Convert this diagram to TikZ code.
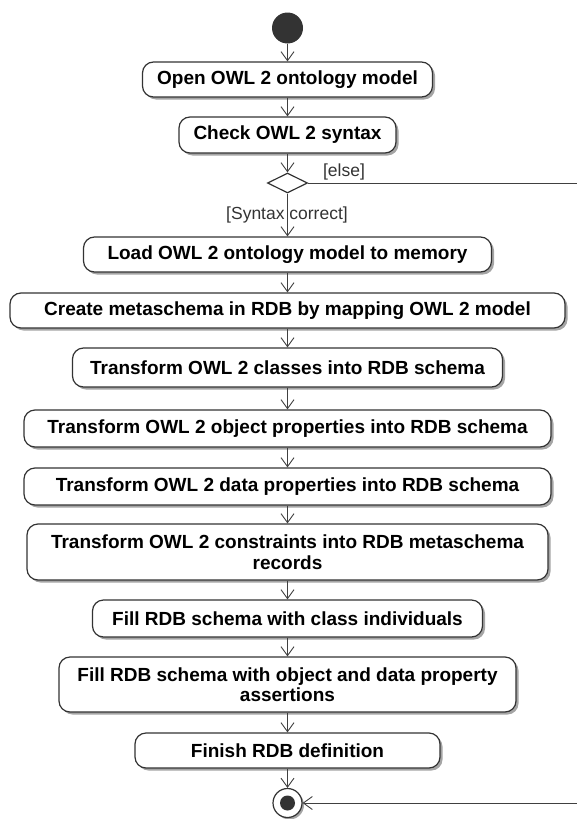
\documentclass[tikz,border=0pt]{standalone}
\usepackage{fontspec}
\setmainfont{Liberation Sans}
\usepackage{xcolor}
\definecolor{umlline}{RGB}{64,64,64}
\definecolor{umldark}{RGB}{51,51,51}
\definecolor{umlshadow}{RGB}{165,165,165}
\usetikzlibrary{arrows.meta, positioning, shapes.geometric, shadows}

\tikzset{
  action/.style={draw=umldark, line width=1.2pt, fill=white, rounded corners=11pt, align=center,
    font=\fontsize{19}{20.5}\selectfont\bfseries, inner sep=2pt,
    drop shadow={shadow xshift=2.5pt, shadow yshift=-2.5pt, fill=umlshadow, opacity=1}},
  flow/.style={draw=umlline, line width=0.9pt, -{Straight Barb[length=9pt,width=13pt]}},
  guard/.style={font=\fontsize{17.5}{19}\selectfont, text=umldark},
}

\begin{document}
\begin{tikzpicture}[x=1pt, y=-1pt]
  \useasboundingbox (0,0) rectangle (577,819);

  % Initial node
  \node[circle, fill=umldark, minimum size=31pt, inner sep=0pt] (start) at (287.5,28) {};

  % Opening and checking
  \node[action, minimum width=290pt, minimum height=35pt] (open) at (287.5,79.5) {Open OWL 2 ontology model};
  \node[action, minimum width=217pt, minimum height=36pt] (check) at (287.5,135) {Check OWL 2 syntax};

  % Decision
  \node[diamond, draw=umldark, line width=1.2pt, fill=white, minimum width=40pt, minimum height=20pt, inner sep=0pt] (decide) at (287.5,183) {};

  % Mapping steps
  \node[action, minimum width=408pt, minimum height=35pt] (load) at (287.5,254.5) {Load OWL 2 ontology model to memory};
  \node[action, minimum width=555pt, minimum height=35pt] (meta) at (287.5,310.5) {Create metaschema in RDB by mapping OWL 2 model};
  \node[action, minimum width=430pt, minimum height=39pt] (classes) at (287.5,367.5) {Transform OWL 2 classes into RDB schema};
  \node[action, minimum width=527pt, minimum height=37pt] (objprops) at (287.5,428.5) {Transform OWL 2 object properties into RDB schema};
  \node[action, minimum width=527pt, minimum height=37pt] (dataprops) at (287.5,486.5) {Transform OWL 2 data properties into RDB schema};
  \node[action, minimum width=521pt, minimum height=56pt] (constr) at (287.5,552) {Transform OWL 2 constraints into RDB metaschema\\records};

  % Filling steps
  \node[action, minimum width=390pt, minimum height=37pt] (fillind) at (287.5,618.5) {Fill RDB schema with class individuals};
  \node[action, minimum width=457pt, minimum height=55pt] (fillprop) at (287.5,684.5) {Fill RDB schema with object and data property\\assertions};
  \node[action, minimum width=305pt, minimum height=35pt] (finish) at (287.5,750.5) {Finish RDB definition};

  % Final node
  \node[circle, draw=umldark, line width=1.2pt, fill=white, minimum size=29pt, inner sep=0pt,
    drop shadow={shadow xshift=2pt, shadow yshift=-2pt, fill=umlshadow, opacity=1}] (done) at (287.5,803) {};
  \node[circle, fill=umldark, minimum size=15pt, inner sep=0pt] (donedot) at (done.center) {};

  % Control flows
  \draw[flow] (start) -- (open);
  \draw[flow] (open) -- (check);
  \draw[flow] (check) -- (decide);
  \draw[flow] (decide) -- (load);
  \draw[flow] (load) -- (meta);
  \draw[flow] (meta) -- (classes);
  \draw[flow] (classes) -- (objprops);
  \draw[flow] (objprops) -- (dataprops);
  \draw[flow] (dataprops) -- (constr);
  \draw[flow] (constr) -- (fillind);
  \draw[flow] (fillind) -- (fillprop);
  \draw[flow] (fillprop) -- (finish);
  \draw[flow] (finish) -- (done);

  % Else branch (runs outside the right edge)
  \coordinate (elsetop) at (600,183);
  \coordinate (elsebot) at (600,803);
  \draw[flow] (decide.east) -- (elsetop) -- (elsebot) -- (done.east);

  % Guards
  \node[guard] (elselbl) at (344,172) {[else]};
  \node[guard] (oklbl) at (287,215) {[Syntax correct]};
\end{tikzpicture}
\end{document}
